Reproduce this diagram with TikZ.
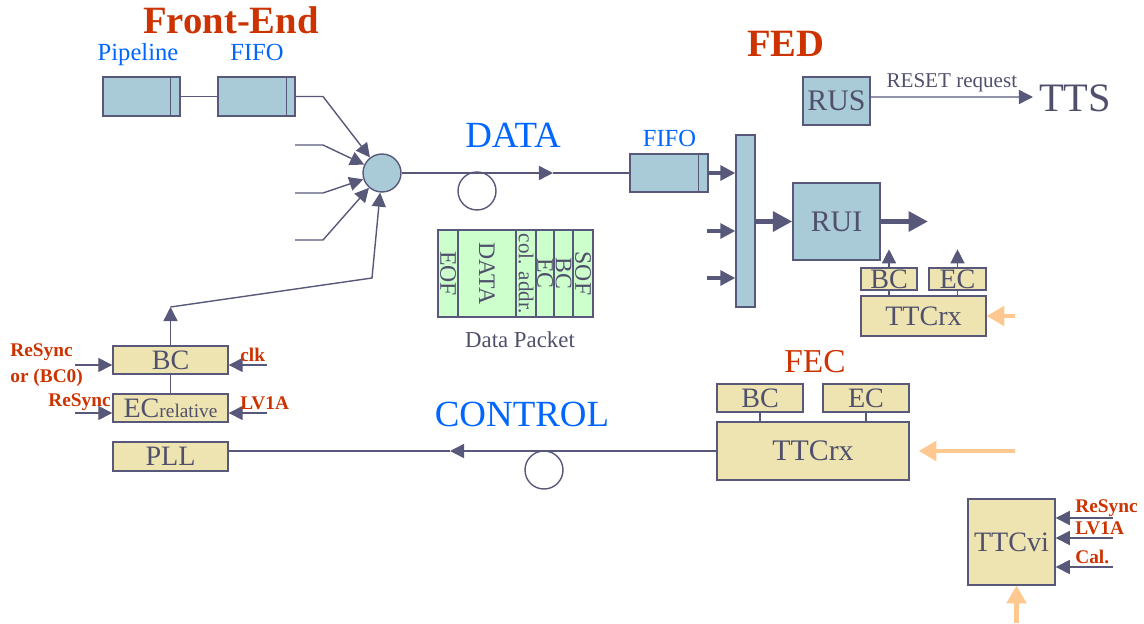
\documentclass[tikz,border=0pt]{standalone}
\usepackage{fontspec}
\setmainfont{Liberation Serif}
\usetikzlibrary{arrows.meta,positioning,calc}
\definecolor{edge}{HTML}{58587A}
\definecolor{slate}{HTML}{50506C}
\definecolor{boxblue}{HTML}{A9CBD7}
\definecolor{boxyellow}{HTML}{EEE4B1}
\definecolor{pktgreen}{HTML}{CCFFCC}
\definecolor{headred}{HTML}{CC3300}
\definecolor{textblue}{HTML}{0066FF}
\definecolor{clkorange}{HTML}{FFC890}
\newcommand{\sizept}[1]{\fontsize{#1}{#1}\selectfont}

\tikzset{
  line/.style={draw=edge,line width=0.8pt},
  lbox/.style={line,fill=boxblue,inner sep=0pt,text=slate},
  ybox/.style={line,fill=boxyellow,inner sep=0pt,text=slate},
  opencirc/.style={circle,line,minimum size=0.76cm,inner sep=0pt},
  sarr/.style={line,-{Triangle[length=8pt,width=8pt]}},
  marr/.style={draw=edge,line width=1.9pt,-{Triangle[length=8.5pt,width=8.5pt]}},
  barr/.style={draw=edge,line width=2.8pt,-{Triangle[length=11pt,width=11pt]}},
  oarr/.style={draw=clkorange,line width=2.3pt,-{Triangle[length=10pt,width=11pt]}},
  redhead/.style={text=headred,font=\bfseries\sizept{22},inner sep=0pt},
  redlbl/.style={text=headred,font=\bfseries\sizept{11},inner sep=0pt},
  bluelbl/.style={text=textblue,font=\sizept{14},inner sep=0pt},
  bluebig/.style={text=textblue,font=\sizept{21},inner sep=0pt},
  slatetext/.style={text=slate},
}

\begin{document}
\begin{tikzpicture}[x=0.02cm,y=-0.02cm]
\useasboundingbox (0,0) rectangle (1144,623);

% front-end side
\node[redhead,anchor=base] (fehead) at (231,33) {Front-End};
\node[bluelbl,anchor=base] (pipelbl) at (138,60) {Pipeline};
\node[bluelbl,anchor=base] (fifolbl) at (257,60) {FIFO};
\node[lbox,minimum width=1.54cm,minimum height=0.78cm] (pipe) at (141.5,96.5) {};
\node[lbox,minimum width=1.54cm,minimum height=0.78cm] (fefifo) at (256.5,96.5) {};
\draw[line] ([xshift=-0.2cm]pipe.north east) -- ([xshift=-0.2cm]pipe.south east);
\draw[line] ([xshift=-0.18cm]fefifo.north east) -- ([xshift=-0.18cm]fefifo.south east);
\node[circle,lbox,minimum size=0.76cm] (merge) at (382,173) {};
\draw[line] (pipe.east) -- (fefifo.west);
\draw[sarr] (fefifo.east) -- (323,96.5) -- (merge);
\foreach \y [count=\i] in {145,193,240} {
  \coordinate (in\i) at (295,\y);
  \draw[sarr] (in\i) -- (323,\y) -- (merge);
}

% data link
\coordinate (datatip) at (553,173);
\node[bluebig] (datalbl) at (513,135) {DATA};
\node[opencirc] (dcirc) at (477,191) {};

% data packet
\draw[line,fill=pktgreen] (438,230) rectangle (593,317);
\foreach \x in {458,516,536,554,573}
  \draw[line] (\x,230) -- (\x,317);
\foreach \x/\txt/\sz [count=\i] in {448/EOF/13.5,487/DATA/13.5,526/{col. addr.}/12,545/EC/13.5,563.5/BC/13.5,583/SOF/13.5}
  \node[slatetext,rotate=-90,inner sep=0pt,font=\sizept{\sz}] (pkt\i) at (\x,273.5) {\txt};
\node[slatetext,font=\sizept{13}] (pktlbl) at (520,340) {Data Packet};

% FED
\node[redhead] (fedhead) at (786,44) {FED};
\node[bluelbl] (fedfifolbl) at (669.5,138) {FIFO};
\node[lbox,minimum width=1.56cm,minimum height=0.76cm] (fedfifo) at (669,173) {};
\draw[line] ([xshift=-0.2cm]fedfifo.north east) -- ([xshift=-0.2cm]fedfifo.south east);
\draw[sarr] (merge.east) -- (datatip);
\draw[line] (datatip) -- (fedfifo.west);
\node[lbox,minimum width=0.38cm,minimum height=3.44cm] (bus) at (745.5,221) {};
\draw[marr] (fedfifo.east) -- (fedfifo.east -| bus.west);
\foreach \y [count=\i] in {231,278} {
  \coordinate (bin\i) at (707,\y);
  \draw[marr] (bin\i) -- (bin\i -| bus.west);
}
\node[lbox,minimum width=1.74cm,minimum height=1.54cm,font=\sizept{17}] (rui) at (836.5,221.5) {RUI};
\draw[barr] (bus.east |- rui.west) -- (rui.west);
\coordinate (ruiout) at (928,221.5);
\draw[barr] (rui.east) -- (ruiout);

\node[lbox,minimum width=1.34cm,minimum height=0.96cm,font=\sizept{17}] (rus) at (836.5,101) {RUS};
\node[slatetext,font=\sizept{23}] (tts) at (1075,98) {TTS};
\coordinate (ttsin) at (1033,97);
\draw[sarr] ([yshift=0.08cm]rus.east) -- (ttsin)
  node[pos=0.5,anchor=south,inner sep=2.5pt,slatetext,font=\sizept{12}] (resetlbl) {RESET request};

\node[ybox,minimum width=1.12cm,minimum height=0.44cm,font=\sizept{16}] (fedbc) at (889,279) {BC};
\node[ybox,minimum width=1.14cm,minimum height=0.44cm,font=\sizept{16}] (fedec) at (957.5,279) {EC};
\node[ybox,minimum width=2.5cm,minimum height=0.8cm,font=\sizept{16}] (fedtrx) at (923.5,316) {TTCrx};
\draw[sarr] (fedbc.north) -- ++(0,-18);
\draw[sarr] (fedec.north) -- ++(0,-18);
\draw[line] (fedbc.south) -- (fedbc.south |- fedtrx.north);
\draw[line] (fedec.south) -- (fedec.south |- fedtrx.north);
\coordinate (fedclk) at (1015,316);
\draw[oarr] (fedclk) -- (fedtrx.east);

% front-end timing
\node[ybox,minimum width=2.3cm,minimum height=0.56cm,font=\sizept{16}] (bc) at (170.5,360) {BC};
\node[ybox,minimum width=2.3cm,minimum height=0.56cm,font=\sizept{16}] (ecr) at (170.5,408) {EC{\sizept{11}relative}};
\node[ybox,minimum width=2.3cm,minimum height=0.58cm,font=\sizept{16}] (pll) at (170.5,456.5) {PLL};
\draw[line] (bc.south) -- (ecr.north);
\coordinate (bcup) at (170.5,307);
\coordinate (bcbend) at (372,278);
\draw[sarr] (bc.north) -- (bcup);
\draw[sarr] (bcup) -- (bcbend) -- (merge);

\coordinate (rsin) at (75,365);
\coordinate (clkin) at (267,365);
\coordinate (rs2in) at (75,413);
\coordinate (lv1in) at (267,413);
\draw[sarr] (rsin) -- (rsin -| bc.west);
\draw[sarr] (clkin) -- (clkin -| bc.east);
\draw[sarr] (rs2in) -- (rs2in -| ecr.west);
\draw[sarr] (lv1in) -- (lv1in -| ecr.east);
\node[redlbl,anchor=west,align=left,font=\bfseries\fontsize{11}{14.5}\selectfont] (rslbl) at (10,365) {ReSync\\or (BC0)};
\node[redlbl,anchor=west] (rs2lbl) at (48,402) {ReSync};
\node[redlbl,anchor=west] (clklbl) at (240,355) {clk};
\node[redlbl,anchor=west] (lv1lbl) at (240,403) {LV1A};

% control link
\node[text=headred,font=\sizept{19},inner sep=0pt] (fechead) at (815,362) {FEC};
\node[ybox,minimum width=1.72cm,minimum height=0.56cm,font=\sizept{16}] (fecbc) at (760,398) {BC};
\node[ybox,minimum width=1.72cm,minimum height=0.56cm,font=\sizept{16}] (fecec) at (866,398) {EC};
\node[ybox,minimum width=3.84cm,minimum height=1.16cm,font=\sizept{17}] (fectrx) at (813,451) {TTCrx};
\draw[line] (fecbc.south) -- (fecbc.south |- fectrx.north);
\draw[line] (fecec.south) -- (fecec.south |- fectrx.north);
\coordinate (ctltip) at (450,451);
\draw[sarr] (fectrx.west) -- (ctltip);
\draw[line] (ctltip) -- (ctltip -| pll.east);
\node[opencirc] (ccirc) at (544,470) {};
\node[bluebig] (ctllbl) at (522,414) {CONTROL};
\coordinate (fecclk) at (1015,451);
\draw[oarr,shorten >=0.18cm] (fecclk) -- (fectrx.east);

% TTCvi
\node[ybox,minimum width=1.74cm,minimum height=1.72cm,font=\sizept{16}] (ttcvi) at (1011.5,542) {TTCvi};
\foreach \y/\txt [count=\i] in {518/ReSync,538/LV1A,567/Cal.} {
  \coordinate (vin\i) at (1113,\y);
  \draw[sarr] (vin\i) -- (vin\i -| ttcvi.east);
  \node[redlbl,anchor=west] (vlbl\i) at (1075,\y-10) {\txt};
}
\coordinate (vbot) at (1016.5,623);
\draw[oarr] (vbot) -- (vbot |- ttcvi.south);
\end{tikzpicture}
\end{document}
